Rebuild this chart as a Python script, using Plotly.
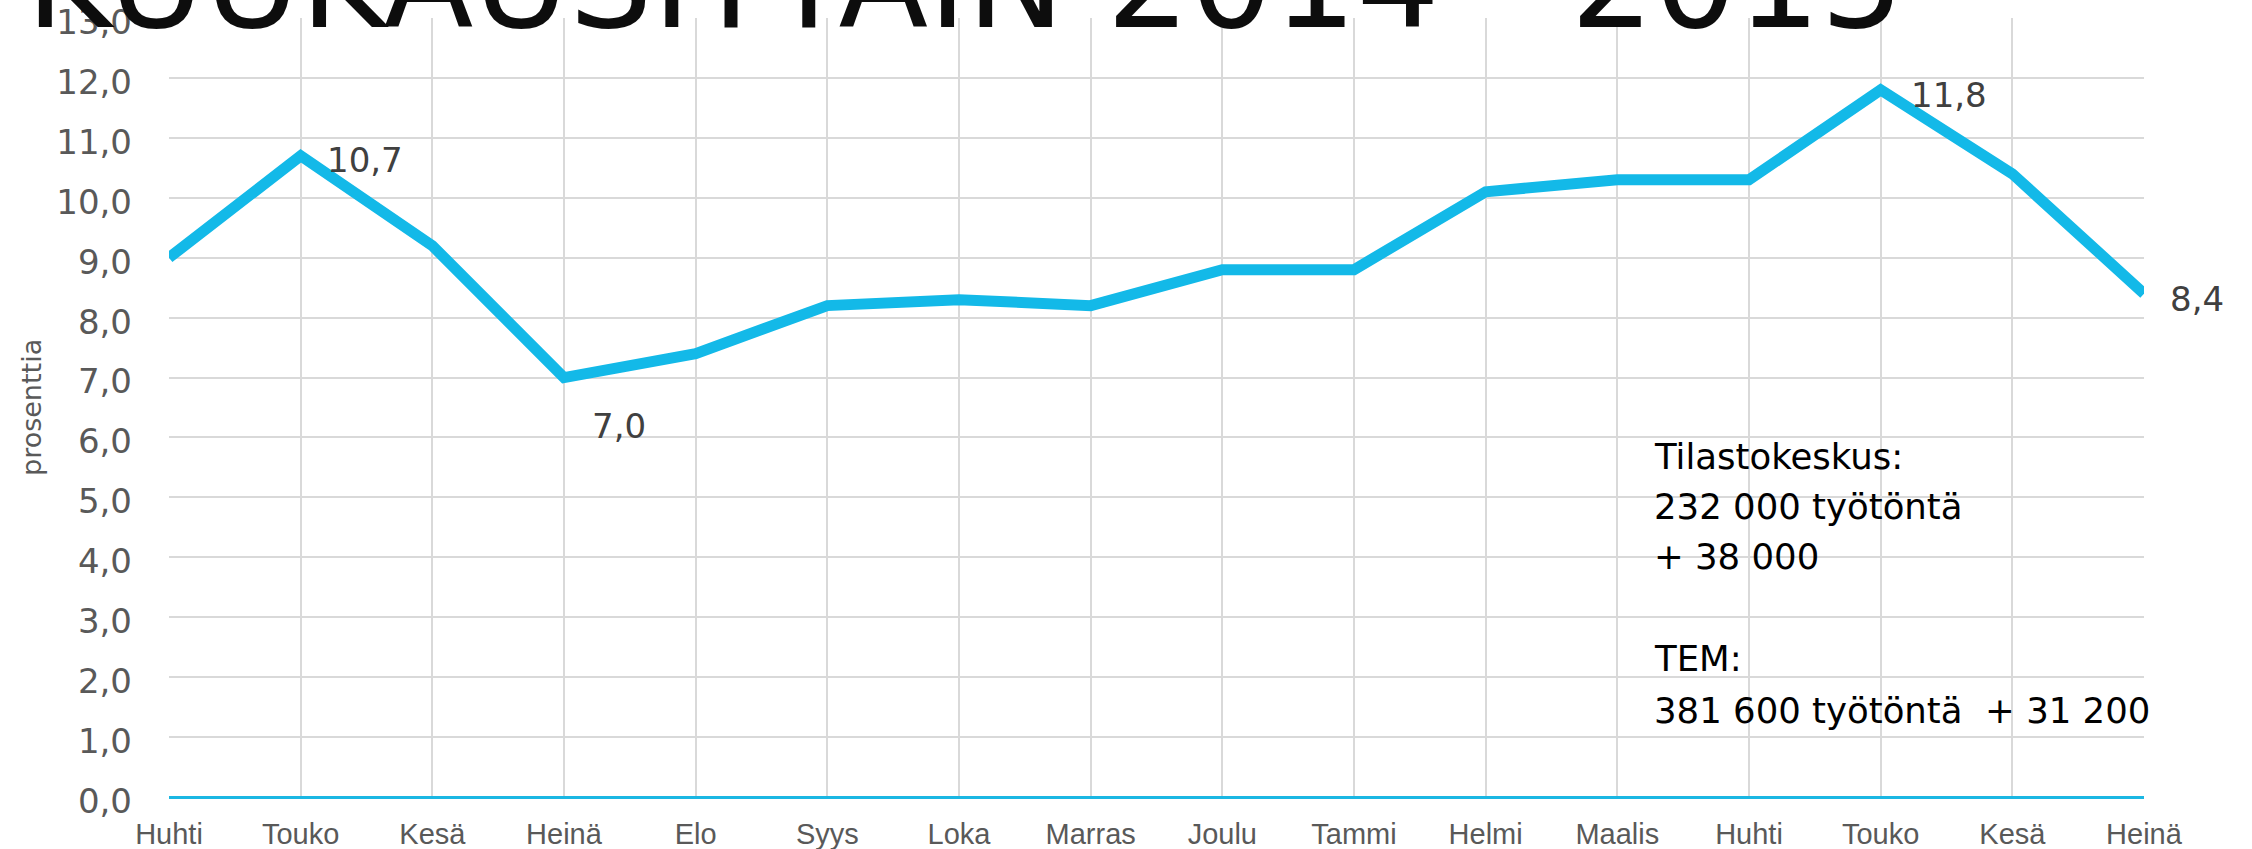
import plotly.graph_objects as go

months = ["Huhti", "Touko", "Kesä", "Heinä", "Elo", "Syys", "Loka", "Marras",
          "Joulu", "Tammi", "Helmi", "Maalis", "Huhti", "Touko", "Kesä", "Heinä"]
rate = [9.0, 10.7, 9.2, 7.0, 7.4, 8.2, 8.3, 8.2, 8.8, 8.8, 10.1, 10.3, 10.3, 11.8, 10.4, 8.4]
labelled = [1, 3, 13, 15]
label_shift = {1: (24, -4), 3: (26, -48), 13: (28, -5), 15: (24, -5)}
y_ticks = list(range(0, 14))
title_text = "KUUKAUSITTAIN 2014 - 2015"
y_title = "prosenttia"
info_lines = ["Tilastokeskus:", "232 000 työtöntä", "+ 38 000", "TEM:", "381 600 työtöntä\u00a0\u00a0+ 31 200"]
info_line_y = [456, 506, 556, 658, 710]  # pixel centres

W, H = 2252, 849
ML, MR, MT, MB = 169, 108, 18, 52
PW, PH = W - ML - MR, H - MT - MB


def px_x(px):
    return (px - ML) / PW


def px_y(py):
    return (H - MB - py) / PH


x = list(range(len(months)))

fig = go.Figure()
fig.add_trace(go.Scatter(
    x=x, y=rate, mode="lines",
    line=dict(color="#13B9E8", width=11),
    hoverinfo="skip", showlegend=False,
))

ann = []
for i in labelled:
    dx, dy = label_shift[i]
    ann.append(dict(
        x=x[i], y=rate[i], xref="x", yref="y",
        text=f"{rate[i]:.1f}".replace(".", ","),
        showarrow=False, xanchor="left", yanchor="middle",
        xshift=dx, yshift=dy,
        font=dict(family="DejaVu Sans", size=34, color="#404040"),
    ))

for t, py in zip(info_lines, info_line_y):
    ann.append(dict(
        x=px_x(1652), y=px_y(py), xref="paper", yref="paper",
        text=t, showarrow=False, xanchor="left", yanchor="middle",
        font=dict(family="DejaVu Sans", size=35.5, color="#000000"),
    ))

ann.append(dict(
    x=px_x(31), y=px_y(408), xref="paper", yref="paper",
    text=y_title, textangle=-90, showarrow=False,
    xanchor="center", yanchor="middle",
    font=dict(family="DejaVu Sans", size=27, color="#595959"),
))

ann.append(dict(
    x=px_x(24), y=px_y(60), xref="paper", yref="paper",
    text=title_text, showarrow=False, xanchor="left", yanchor="bottom",
    font=dict(family="DejaVu Sans", size=131, color="#0D0D0D"),
))

fig.update_layout(
    width=W, height=H,
    margin=dict(l=ML, r=MR, t=MT, b=MB, pad=0, autoexpand=False),
    paper_bgcolor="white", plot_bgcolor="white",
    separators=", ",
    annotations=ann,
    xaxis=dict(
        range=[0, len(months) - 1],
        tickmode="array", tickvals=x, ticktext=months,
        showgrid=True, gridcolor="#D9D9D9", gridwidth=1.5,
        zeroline=False, showline=False, ticks="",
        tickfont=dict(family="Liberation Sans Narrow, Arial Narrow, Liberation Sans", size=29, color="#595959"),
        ticklabelstandoff=17,
        automargin=False,
        fixedrange=True,
    ),
    yaxis=dict(
        range=[0, 13],
        tickmode="array", tickvals=y_ticks,
        ticktext=[f"{v:.1f}".replace(".", ",") for v in y_ticks],
        showgrid=True, gridcolor="#D9D9D9", gridwidth=1.5,
        zeroline=True, zerolinecolor="#1BB7E3", zerolinewidth=3,
        showline=False, ticks="",
        tickfont=dict(family="DejaVu Sans", size=34, color="#595959"),
        ticklabelstandoff=36,
        ticklabelshift=4,
        automargin=False,
        fixedrange=True,
    ),
)

fig.write_html("out.html", config={"displayModeBar": False},
               post_script="document.body.style.margin='0';")
